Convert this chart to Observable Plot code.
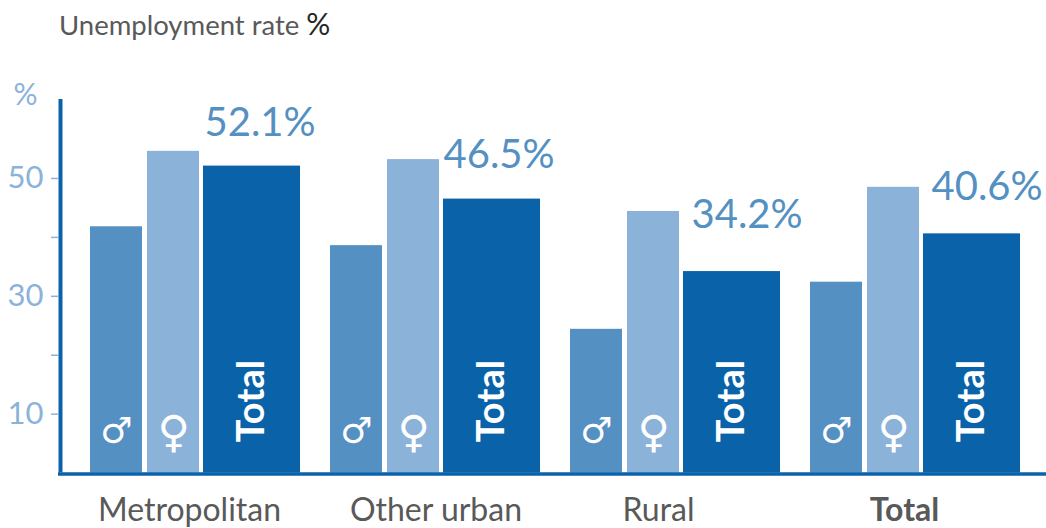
<!DOCTYPE html>
<html>
<head>
<meta charset="utf-8">
<script src="https://cdn.jsdelivr.net/npm/d3@7"></script>
<script src="https://cdn.jsdelivr.net/npm/@observablehq/plot@0.6"></script>
<style>
html,body{margin:0;padding:0;background:#fff;width:1046px;height:528px;overflow:hidden}
#title{height:60px;box-sizing:border-box;padding:7px 0 0 59px;font:27.5px/32px Lato,sans-serif;color:#595959}
#title span{color:#262626;font-size:30px}
svg{display:block}
</style>
</head>
<body>
<div id="title">Unemployment rate <span>%</span></div>
<div id="chart"></div>
<script>
const groups = ["Metropolitan", "Other urban", "Rural", "Total"];
const male = [41.8, 38.6, 24.4, 32.4];
const female = [54.6, 53.2, 44.4, 48.5];
const total = [52.1, 46.5, 34.2, 40.6];
const axisTicks = [10, 20, 30, 40, 50];
const labelledTicks = [10, 30, 50];

// layout, in 240ths of one group's slot
const slot = 240;
const spans = {male: [0, 52], female: [57, 109], total: [113, 210]};
const groupLabelAt = [99, 105.5, 88, 94];
const valueLabelDx = [1, 0, 8, 8];
const valueLabelDy = [-30, -31, -44, -34];

const colors = {male: "#5490c2", female: "#8bb3da", total: "#0a62a9"};
const bars = groups.flatMap((g, i) => [
  {key: "male", v: male[i], i},
  {key: "female", v: female[i], i},
  {key: "total", v: total[i], i}
]).map(d => ({
  ...d,
  x1: d.i + spans[d.key][0] / slot,
  x2: d.i + spans[d.key][1] / slot,
  xc: d.i + (spans[d.key][0] + spans[d.key][1]) / 2 / slot
}));
const ofKey = k => bars.filter(d => d.key === k);
const font = "Lato, sans-serif";
const axisColor = "#0a62a9";
const tickColor = "#8bb3da";
const yTop = 63.4;
const xMax = (1046 - 90) / slot;

const plot = Plot.plot({
  width: 1046,
  height: 468,
  marginLeft: 0, marginRight: 0, marginTop: 39, marginBottom: 55.4,
  x: {domain: [-90 / slot, xMax], range: [0, 1046], axis: null},
  y: {domain: [0, yTop], axis: null},
  style: {fontFamily: font, background: "#fff"},
  marks: [
    Plot.rectY(bars, {x1: "x1", x2: "x2", y1: 0, y2: "v", fill: d => colors[d.key]}),
    // y axis
    Plot.ruleY(axisTicks, {y: d => d, x1: -39 / slot, x2: -32 / slot, stroke: tickColor, strokeWidth: 1.5}),
    Plot.text(labelledTicks, {y: d => d, x: -47 / slot, text: d => String(d), textAnchor: "end",
      fontSize: 31, fill: tickColor}),
    Plot.text(["%"], {x: -65 / slot, y: yTop, dy: -4, text: d => d, textAnchor: "middle", fontSize: 30, fill: tickColor}),
    Plot.ruleX([-30 / slot], {y1: 0, y2: yTop, stroke: axisColor, strokeWidth: 4}),
    Plot.ruleY([0], {x1: -32 / slot, x2: xMax, dy: 1, stroke: axisColor, strokeWidth: 3.5}),
    // series labels inside bars
    Plot.text(ofKey("male"), {x: "xc", y: 0, dy: -42, text: () => "♂", fontSize: 36, fill: "#fff",
      fontFamily: "DejaVu Sans", fontWeight: "bold"}),
    Plot.text(ofKey("female"), {x: "xc", y: 0, dy: -40, text: () => "♀", fontSize: 44, fill: "#fff",
      fontFamily: "DejaVu Sans", fontWeight: "bold"}),
    Plot.text(ofKey("total"), {x: "xc", y: 0, dy: -72, text: () => "Total", rotate: -90, fontSize: 38,
      fontWeight: "bold", fill: "#fff"}),
    // value labels
    ...ofKey("total").map((d, i) => Plot.text([d], {x: "x1", y: "v", text: r => r.v.toFixed(1) + "%",
      textAnchor: "start", lineAnchor: "bottom", fontSize: 40, fill: "#5490c2",
      dx: valueLabelDx[i], dy: valueLabelDy[i]})),
    // group labels
    Plot.text(groups.slice(0, 3), {x: (d, i) => i + groupLabelAt[i] / slot, y: 0, dy: 38, text: d => d,
      fontSize: 32, fill: "#595959"}),
    Plot.text(groups.slice(3), {x: () => 3 + groupLabelAt[3] / slot, y: 0, dy: 38, text: d => d,
      fontSize: 32, fill: "#595959", fontWeight: "bold"})
  ]
});
document.getElementById("chart").append(plot);
</script>
</body>
</html>
